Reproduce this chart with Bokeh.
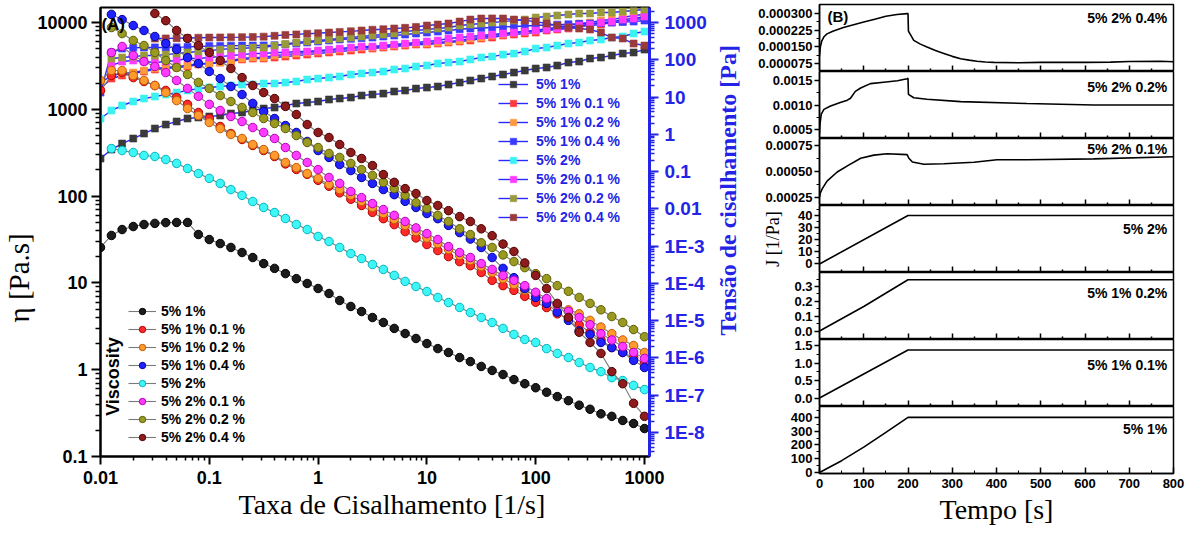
import numpy as np
from bokeh.plotting import figure
from bokeh.models import (Range1d, LogAxis, LogScale, LinearAxis, FixedTicker, CustomJSTickFormatter,
                          PrintfTickFormatter, Legend, LegendItem, Label, Title)
from bokeh.layouts import row, column
from bokeh.embed import file_html
from bokeh.resources import INLINE

# ---------------- data : panel A ----------------
rate = [0.01, 0.0126, 0.0158, 0.02, 0.0251, 0.0316, 0.0398, 0.0501, 0.0631, 0.0794,
        0.1, 0.126, 0.158, 0.2, 0.251, 0.316, 0.398, 0.501, 0.631, 0.794,
        1, 1.26, 1.58, 2, 2.51, 3.16, 3.98, 5.01, 6.31, 7.94,
        10, 12.6, 15.8, 20, 25.1, 31.6, 39.8, 50.1, 63.1, 79.4,
        100, 126, 158, 200, 251, 316, 398, 501, 631, 794, 1000]

names = ["5% 1%", "5% 1% 0.1 %", "5% 1% 0.2 %", "5% 1% 0.4 %",
         "5% 2%", "5% 2% 0.1 %", "5% 2% 0.2 %", "5% 2% 0.4 %"]

# viscosity (left axis, Pa.s)
eta_5_1 = [25.6, 35.2, 41.2, 44.6, 47.1, 48.5, 49.5, 49.7, 49.7, 36.1, 31.6, 28.4, 25.6, 22.4, 19.6, 16.7,
           14.7, 12.8, 11.2, 9.85, 8.62, 7.55, 6.27, 5.35, 4.68, 3.99, 3.50, 2.99, 2.61, 2.29, 2.00, 1.75,
           1.58, 1.38, 1.24, 1.09, 0.98, 0.88, 0.77, 0.69, 0.62, 0.55, 0.49, 0.44, 0.39, 0.35, 0.31, 0.29,
           0.26, 0.24, 0.21]
eta_5_1_01 = [1650, 2450, 2650, 2320, 2090, 1880, 1650, 1370, 1140, 919, 784, 634, 526, 449, 383, 335, 286,
              235, 203, 178, 152, 130, 109, 92, 78, 65, 55, 47, 39, 33, 27.7, 23.6, 20.1, 17.6, 15.8, 13.2,
              10.7, 9.3, 8.2, 7.0, 6.0, 5.2, 4.4, 3.9, 3.3, 2.7, 2.2, 1.8, 1.58, 1.38, 1.18]
eta_5_1_02 = [2150, 2800, 2800, 2450, 2150, 1880, 1560, 1260, 1020, 849, 705, 601, 513, 461, 393, 344, 294,
              244, 213, 182, 160, 136, 119, 102, 87, 74, 63, 54, 46, 39, 33, 28.4, 24.3, 20.7, 18.1, 15.5,
              13.2, 11.2, 9.6, 8.2, 7.2, 6.3, 5.5, 4.9, 4.4, 3.7, 3.1, 2.6, 2.2, 1.9, 1.58]
eta_5_1_04 = [12400, 10800, 9230, 8090, 6900, 5730, 4890, 3950, 3370, 2730, 2260, 1830, 1480, 1170, 944,
              784, 650, 541, 426, 335, 279, 231, 197, 164, 140, 119, 104, 87, 74, 63, 55, 46, 38, 32, 25.6,
              19.6, 14.7, 11.5, 8.6, 6.8, 5.8, 4.6, 3.7, 2.8, 2.55, 2.06, 1.80, 1.58, 1.28, 1.06]
eta_5_2 = [353, 335, 318, 294, 286, 264, 238, 208, 182, 160, 140, 119, 102, 86.7, 74.0, 64.7, 55.2, 47.1,
           41.2, 34.3, 30.0, 25.6, 21.8, 19.1, 16.3, 14.3, 12.2, 10.4, 9.1, 7.96, 6.79, 5.94, 5.21, 4.56,
           3.99, 3.50, 2.99, 2.55, 2.23, 2.06, 1.75, 1.54, 1.38, 1.21, 1.06, 0.95, 0.81, 0.75, 0.66, 0.59]
eta_5_2_01 = [4510, 5290, 4170, 3550, 3110, 2650, 2150, 1740, 1410, 1140, 968, 826, 723, 617, 541, 461, 363,
              294, 244, 202, 164, 140, 113, 96, 82, 70, 60, 51, 43, 37, 31.6, 26.2, 22.4, 19.6, 16.7, 14.3,
              12.2, 10.7, 9.3, 7.8, 6.6, 5.6, 4.7, 4.0, 3.3, 2.6, 2.2, 1.85, 1.58, 1.35]
eta_5_2_02 = [8750, 7460, 6210, 5430, 4510, 3650, 3030, 2520, 2040, 1740, 1440, 1230, 1050, 919, 784, 686,
              601, 499, 415, 363, 310, 279, 238, 202, 173, 144, 122, 102, 84, 72, 60, 51, 42, 36, 29, 25.6,
              21, 17.6, 15.0, 12.8, 11.2, 9.3, 8.0, 6.8, 5.8, 4.9, 4.1, 3.5, 2.9, 2.4]
eta_5_2_04 = [12700, 10500, 8090, 6550, 5430, 4510, 3650, 2950, 2320, 1880, 1560, 1330, 1080, 871, 668, 541,
              473, 393, 318, 271, 225, 177, 144, 122, 107, 89, 78, 68, 58, 51, 42, 35, 28, 23, 17, 12.2,
              8.6, 5.8, 4.0, 2.7, 2.06, 1.54, 0.95, 0.69, 0.41, 0.29]

# shear stress (right axis, Pa)
tau_5_1 = [0.224, 0.391, 0.567, 0.771, 1.05, 1.43, 1.83, 2.21, 2.66, 2.83, 3.01, 3.20, 3.61, 3.85, 4.36,
           4.92, 5.24, 5.93, 6.71, 7.13, 7.59, 8.59, 9.14, 9.72, 11.0, 11.7, 12.4, 14.1, 15.0, 16.9, 18.0,
           19.2, 21.7, 24.5, 27.8, 31.4, 35.6, 40.3, 45.5, 51.5, 58.3, 62.0, 70.2, 84.4, 89.8, 108, 115,
           130, 147, 157, 188]
tau_5_1_01 = [16.9, 31.4, 37.8, 42.8, 48.4, 54.8, 58.3, 62.0, 65.9, 74.7, 79.4, 84.4, 89.8, 102, 108, 108,
              115, 122, 130, 138, 147, 157, 167, 177, 188, 200, 213, 227, 241, 257, 257, 273, 291, 309, 329,
              372, 395, 448, 476, 507, 538, 610, 649, 690, 780, 830, 883, 1000, 1060, 1200, 1280]
tau_5_1_02 = [24.5, 37.8, 42.8, 45.5, 51.5, 58.3, 62.0, 65.9, 70.2, 79.4, 79.4, 84.4, 95.5, 108, 115, 115,
              130, 138, 147, 157, 167, 177, 188, 200, 213, 213, 227, 241, 257, 273, 273, 291, 309, 329, 372,
              395, 448, 476, 538, 573, 610, 690, 735, 830, 940, 1000, 1130, 1200, 1360, 1540, 1640]
tau_5_1_04 = [13.2, 157, 200, 210, 213, 215, 213, 216, 222, 228, 233, 236, 238, 240, 241, 243, 246, 257,
              273, 291, 309, 329, 350, 365, 380, 395, 421, 448, 476, 507, 538, 573, 610, 660, 690, 715, 735,
              760, 785, 810, 830, 855, 875, 895, 920, 945, 975, 1000, 1030, 1060, 1130]
tau_5_2 = [2.66, 4.36, 5.93, 7.59, 9.14, 10.3, 11.7, 13.2, 15.0, 16.9, 18.0, 19.2, 20.4, 21.7, 21.7, 23.1,
           23.1, 24.5, 26.1, 29.5, 31.4, 33.4, 35.6, 40.3, 42.8, 45.5, 48.4, 54.8, 58.3, 65.9, 70.2, 79.4,
           84.4, 89.8, 102, 115, 122, 138, 147, 167, 200, 213, 241, 273, 291, 329, 350, 395, 421, 507, 573]
tau_5_2_01 = [70.2, 89.8, 95.5, 89.8, 84.4, 89.8, 95.5, 108, 108, 115, 122, 130, 138, 147, 147, 157, 157,
              167, 167, 177, 188, 200, 213, 227, 227, 241, 257, 273, 291, 309, 329, 372, 395, 421, 448, 476,
              507, 538, 573, 610, 649, 690, 735, 830, 883, 1000, 1060, 1200, 1280, 1450]
tau_5_2_02 = [108, 115, 122, 130, 130, 138, 147, 157, 167, 177, 188, 200, 200, 213, 213, 240, 265, 291, 309,
              329, 350, 372, 395, 421, 448, 476, 507, 573, 610, 649, 690, 735, 830, 883, 940, 1000, 1060,
              1130, 1200, 1360, 1450, 1540, 1640, 1740, 1740, 1850, 1850, 1970, 2100, 2230]
tau_5_2_04 = [372, 375, 380, 385, 390, 395, 398, 400, 405, 410, 418, 440, 465, 480, 500, 515, 538, 560, 580,
              610, 640, 660, 690, 720, 760, 830, 883, 940, 1060, 1200, 1280, 1290, 1280, 1200, 1130, 1060,
              940, 830, 735, 690, 649, 538, 395, 372, 273, 241]

eta_series = [eta_5_1, eta_5_1_01, eta_5_1_02, eta_5_1_04, eta_5_2, eta_5_2_01, eta_5_2_02, eta_5_2_04]
tau_series = [tau_5_1, tau_5_1_01, tau_5_1_02, tau_5_1_04, tau_5_2, tau_5_2_01, tau_5_2_02, tau_5_2_04]

circle_fill = ["#1c1c1c", "#ff2a2a", "#ff9a2e", "#2222ff", "#3ff6f6", "#ff3cff", "#9a9a22", "#8e1c1c"]
circle_edge = ["#000000", "#b40000", "#c45a00", "#0000a0", "#00b4c0", "#b400b4", "#5e5e00", "#4e0000"]
square_fill = ["#3a3a3a", "#ff3a3a", "#ff9a3a", "#3a3aff", "#3af2f2", "#ff3aff", "#9a9a3a", "#9a3a3a"]

# ---------------- data : panel B (creep compliance) ----------------
t_2_04 = [0, 2, 5, 10, 17, 30, 54, 75, 100, 125, 150, 175, 198, 200, 201, 213, 228, 243, 262, 281, 300,
          319, 338, 356, 375, 394, 450, 500, 550, 600, 658, 700, 770, 800]
J_2_04 = [1.10e-4, 1.50e-4, 1.75e-4, 1.95e-4, 2.08e-4, 2.20e-4, 2.37e-4, 2.48e-4, 2.61e-4, 2.74e-4,
          2.87e-4, 2.95e-4, 2.99e-4, 2.99e-4, 2.20e-4, 1.79e-4, 1.62e-4, 1.49e-4, 1.33e-4, 1.20e-4,
          1.07e-4, 0.96e-4, 0.90e-4, 0.85e-4, 0.82e-4, 0.80e-4, 0.78e-4, 0.80e-4, 0.80e-4, 0.80e-4,
          0.81e-4, 0.84e-4, 0.85e-4, 0.83e-4]
t_2_02 = [0, 1, 4, 10, 25, 47, 63, 70, 81, 93, 115, 145, 176, 198, 200, 201, 213, 243, 319, 469, 620, 800]
J_2_02 = [0.40e-3, 0.60e-3, 0.81e-3, 0.91e-3, 0.98e-3, 1.05e-3, 1.10e-3, 1.14e-3, 1.28e-3, 1.35e-3,
          1.44e-3, 1.47e-3, 1.50e-3, 1.54e-3, 1.55e-3, 1.22e-3, 1.15e-3, 1.12e-3, 1.07e-3, 1.03e-3,
          1.00e-3, 1.00e-3]
t_2_01 = [0, 2, 6, 17, 40, 63, 93, 123, 153, 198, 202, 210, 236, 281, 349, 401, 469, 620, 800]
J_2_01 = [2.5e-4, 2.9e-4, 3.3e-4, 4.05e-4, 4.94e-4, 5.54e-4, 6.28e-4, 6.58e-4, 6.72e-4, 6.63e-4, 6.28e-4,
          5.92e-4, 5.69e-4, 5.74e-4, 5.89e-4, 6.13e-4, 6.13e-4, 6.22e-4, 6.43e-4]
t_2 = [0, 200, 800]
J_2 = [0, 39.8, 39.8]
t_1_02 = [0, 100, 200, 800]
J_1_02 = [0, 0.165, 0.345, 0.345]
t_1_01 = [0, 200, 800]
J_1_01 = [0, 1.38, 1.38]
t_1 = [0, 50, 100, 150, 200, 800]
J_1 = [0, 86, 184, 291, 400, 400]

# ---------------- styling helpers ----------------
SANS = "Liberation Sans"
SERIF = "Liberation Serif"
BLUE = "#2424e6"

fmt_code = """
const e = Math.round(Math.log10(tick));
if (e >= 0) return Math.round(tick).toString();
if (e >= -2) return tick.toFixed(-e);
return "1E" + e;
"""

def decade_ticker(lo, hi):
    major = [10.0 ** e for e in range(lo, hi + 1)]
    minor = [m * 10.0 ** e for e in range(lo - 1, hi + 1) for m in range(2, 10)]
    return FixedTicker(ticks=major, minor_ticks=minor)

# ---------------- panel A ----------------
pA = figure(width=712, height=533, x_axis_type="log", y_axis_type="log",
            x_range=Range1d(0.01, 1112), y_range=Range1d(0.1, 14890),
            output_backend="svg", toolbar_location=None,
            min_border_left=99, min_border_right=63, min_border_top=7, min_border_bottom=77)
pA.extra_y_ranges = {"tau": Range1d(10 ** -8.644, 10 ** 3.403)}
pA.extra_y_scales = {"tau": LogScale()}
pA.grid.visible = False
pA.outline_line_color = "black"
pA.outline_line_width = 2
pA.outline_line_alpha = 1

for ax, tk in ((pA.xaxis[0], decade_ticker(-2, 3)), (pA.yaxis[0], decade_ticker(-1, 4))):
    ax.ticker = tk
    ax.formatter = CustomJSTickFormatter(code=fmt_code)
    ax.axis_line_width = 2
    ax.major_tick_line_width = 2
    ax.minor_tick_line_width = 1.5
    ax.major_tick_in = 0
    ax.minor_tick_in = 0
    ax.major_label_text_font = SANS
    ax.major_label_text_font_style = "bold"
    ax.major_label_text_font_size = "18px"
    ax.major_label_text_color = "black"
pA.xaxis.major_tick_out = 8
pA.xaxis.minor_tick_out = 4
pA.xaxis.major_label_standoff = 6
pA.yaxis.major_tick_out = 9
pA.yaxis.minor_tick_out = 5
pA.yaxis.major_label_standoff = 4

ax_r = LogAxis(y_range_name="tau", ticker=decade_ticker(-8, 3),
               formatter=CustomJSTickFormatter(code=fmt_code))
ax_r.axis_line_color = BLUE
ax_r.axis_line_width = 3
ax_r.major_tick_line_color = BLUE
ax_r.minor_tick_line_color = BLUE
ax_r.major_tick_line_width = 2
ax_r.minor_tick_line_width = 1.5
ax_r.major_tick_in = 0
ax_r.minor_tick_in = 0
ax_r.major_tick_out = 9
ax_r.minor_tick_out = 5
ax_r.major_label_standoff = 6
ax_r.major_label_text_font = SANS
ax_r.major_label_text_font_style = "bold"
ax_r.major_label_text_font_size = "19px"
ax_r.major_label_text_color = BLUE
pA.add_layout(ax_r, "right")

# axis titles placed as side titles so they can be offset like the original
pA.add_layout(Title(text="η [Pa.s]", align="left", offset=134, standoff=0,
                    text_font=SERIF, text_font_style="normal", text_font_size="29px",
                    text_color="black"), "left")
pA.add_layout(Title(text="Taxa de Cisalhamento [1/s]", align="left", offset=138, standoff=0,
                    text_font=SERIF, text_font_style="normal", text_font_size="28px",
                    text_color="black"), "below")

sq_items = []
for k in range(8):
    v = tau_series[k]
    xs = rate[len(rate) - len(v):]
    lr = pA.line(xs, v, y_range_name="tau", line_color="#2a2aff", line_width=1.4)
    sr = pA.scatter(xs, v, y_range_name="tau", marker="square", size=7,
                    fill_color=square_fill[k], line_color=square_fill[k], line_alpha=0.6)
    sq_items.append(LegendItem(label=names[k], renderers=[lr, sr]))

ci_items = []
for k in range(8):
    v = eta_series[k]
    xs = rate[len(rate) - len(v):]
    lr = pA.line(xs, v, line_color="#7a7a7a", line_width=1.1)
    sr = pA.scatter(xs, v, marker="circle", size=8.5,
                    fill_color=circle_fill[k], line_color=circle_edge[k], line_width=1)
    ci_items.append(LegendItem(label=names[k], renderers=[lr, sr]))

leg_sq = Legend(items=sq_items, location=(398, 231), glyph_width=30, glyph_height=16, label_height=16,
                label_standoff=8, spacing=3, padding=0, margin=0,
                border_line_alpha=0, background_fill_alpha=0,
                label_text_font=SANS, label_text_font_style="bold", label_text_font_size="14px",
                label_text_color=BLUE)
leg_ci = Legend(items=ci_items, location=(28, 11), glyph_width=28, glyph_height=16, label_height=16,
                label_standoff=5, spacing=2, padding=0, margin=0,
                border_line_alpha=0, background_fill_alpha=0,
                label_text_font=SANS, label_text_font_style="bold", label_text_font_size="14px",
                label_text_color="black")
pA.add_layout(leg_sq)
pA.add_layout(leg_ci)

pA.add_layout(Label(x=0.0102, y=9610, text="(A)", text_align="left", text_baseline="middle",
                    text_font=SANS, text_font_style="bold", text_font_size="17px", text_color="black"))
pA.add_layout(Label(x=0.01315, y=0.835, text="Viscosity", angle=np.pi / 2, text_align="center",
                    text_baseline="middle", text_font=SANS, text_font_style="bold",
                    text_font_size="18px", text_color="black"))

# narrow strip holding the right-axis title (reads bottom-to-top like the original)
pT = figure(width=43, height=533, x_range=Range1d(0, 1), y_range=Range1d(0, 1),
            output_backend="svg", toolbar_location=None,
            x_axis_location=None, y_axis_location=None,
            min_border_left=0, min_border_right=0, min_border_top=0, min_border_bottom=0)
pT.grid.visible = False
pT.outline_line_color = None
pT.add_layout(Label(x=0.372, y=0.593, text="Tensão de cisalhamento [Pa]", angle=np.pi / 2,
                    text_align="center", text_baseline="middle", text_font=SERIF,
                    text_font_style="bold", text_font_size="24px", text_color=BLUE))

# ---------------- panel B ----------------
xr = Range1d(0, 800)
subs_spec = [
    (t_2_04, J_2_04, (0.000039, 0.00034), [0.000075, 0.00015, 0.000225, 0.0003],
     [0.0000375, 0.0001125, 0.0001875, 0.0002625], "%.6f", "5% 2% 0.4%", 0.000281),
    (t_2_02, J_2_02, (0.00031, 0.00169), [0.0005, 0.001, 0.0015], [0.00075, 0.00125],
     "%.4f", "5% 2% 0.2%", 0.001376),
    (t_2_01, J_2_01, (0.000168, 0.00082), [0.00025, 0.0005, 0.00075], [0.000375, 0.000625],
     "%.5f", "5% 2% 0.1%", 0.000713),
    (t_2, J_2, (-7.0, 48), [0, 10, 20, 30, 40], [5, 15, 25, 35, 45], "%d", "5% 2%", 28.3),
    (t_1_02, J_1_02, (-0.057, 0.394), [0, 0.1, 0.2, 0.3], [0.05, 0.15, 0.25, 0.35],
     "%.1f", "5% 1% 0.2%", 0.259),
    (t_1_01, J_1_01, (-0.244, 1.68), [0, 0.5, 1.0, 1.5], [0.25, 0.75, 1.25], "%.1f", "5% 1% 0.1%", 0.962),
    (t_1, J_1, (-7, 479), [0, 100, 200, 300, 400], [50, 150, 250, 350, 450], "%d", "5% 1%", 317),
]

subs = []
n = len(subs_spec)
for i, (t, J, yr, yt, ym, fmt, lab, ly) in enumerate(subs_spec):
    last = i == n - 1
    top = 4 if i == 0 else 0
    bottom = 60 if last else 0
    p = figure(width=430, height=67 + top + bottom, x_range=xr, y_range=Range1d(*yr),
               output_backend="svg", toolbar_location=None,
               x_axis_location="below" if last else None,
               min_border_left=64, min_border_right=12,
               min_border_top=top, min_border_bottom=bottom)
    p.grid.visible = False
    p.outline_line_color = "black"
    p.outline_line_width = 1.5
    p.outline_line_alpha = 1
    p.line(t, J, line_color="black", line_width=1.6)

    if last:
        xa = p.xaxis[0]
        xa.ticker = FixedTicker(ticks=list(range(0, 801, 100)), minor_ticks=list(range(50, 800, 100)))
        xa.major_tick_in = 6
        xa.major_tick_out = 0
        xa.minor_tick_in = 3
        xa.minor_tick_out = 0
        xa.axis_line_width = 1.5
        xa.major_tick_line_width = 1.5
        xa.major_label_text_font = SANS
        xa.major_label_text_font_style = "bold"
        xa.major_label_text_font_size = "13px"
        xa.major_label_text_color = "black"
        xa.major_label_standoff = 5
        xa.axis_label = "Tempo [s]"
        xa.axis_label_text_font = SERIF
        xa.axis_label_text_font_style = "normal"
        xa.axis_label_text_font_size = "28px"
        xa.axis_label_text_color = "black"
        xa.axis_label_standoff = 3
    else:
        # tick marks only (no labels) on the shared boundary
        for tk_list, ln in ((list(range(100, 800, 100)), 6), (list(range(50, 800, 100)), 3)):
            ax = LinearAxis(ticker=FixedTicker(ticks=[], minor_ticks=tk_list),
                            major_tick_in=0, major_tick_out=0, major_label_standoff=0,
                            minor_tick_in=ln, minor_tick_out=0, minor_tick_line_width=1.5,
                            axis_line_width=1.5)
            p.add_layout(ax, "below")

    ya = p.yaxis[0]
    ya.ticker = FixedTicker(ticks=yt, minor_ticks=ym)
    ya.formatter = PrintfTickFormatter(format=fmt)
    ya.major_tick_out = 5
    ya.major_tick_in = 0
    ya.minor_tick_out = 3
    ya.minor_tick_in = 0
    ya.axis_line_width = 1.5
    ya.major_tick_line_width = 1.5
    ya.major_label_standoff = 2
    ya.major_label_text_font = SANS
    ya.major_label_text_font_style = "bold"
    ya.major_label_text_font_size = "13px"
    ya.major_label_text_color = "black"
    if i == 3:
        ya.axis_label = "J [1/Pa]"
        ya.axis_label_text_font = SERIF
        ya.axis_label_text_font_style = "normal"
        ya.axis_label_text_font_size = "18px"
        ya.axis_label_text_color = "black"
        ya.axis_label_standoff = 12

    p.add_layout(Label(x=786, y=ly, text=lab, text_align="right", text_baseline="middle",
                       text_font=SANS, text_font_style="bold", text_font_size="14px",
                       text_color="black"))
    if i == 0:
        p.add_layout(Label(x=18, y=0.000286, text="(B)", text_align="left", text_baseline="middle",
                           text_font=SANS, text_font_style="bold", text_font_size="15px",
                           text_color="black"))
    subs.append(p)

layout = row(pA, pT, column(*subs, spacing=0), spacing=0)

with open("out.html", "w") as f:
    f.write(file_html(layout, INLINE))
